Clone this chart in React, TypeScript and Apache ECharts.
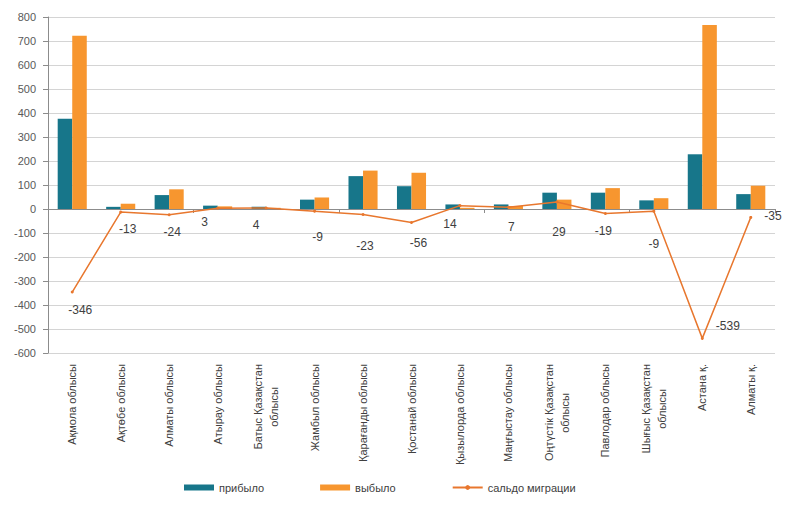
import React, { useEffect, useRef } from "react";
import * as echarts from "echarts";

const categories = [
  "Ақмола облысы",
  "Ақтөбе облысы",
  "Алматы облысы",
  "Атырау облысы",
  "Батыс Қазақстан\nоблысы",
  "Жамбыл облысы",
  "Қарағанды облысы",
  "Қостанай облысы",
  "Қызылорда облысы",
  "Маңғыстау облысы",
  "Оңтүстік Қазақстан\nоблысы",
  "Павлодар облысы",
  "Шығыс Қазақстан\nоблысы",
  "Астана қ.",
  "Алматы қ.",
];

const arrived = [376, 9, 58, 14, 9, 39, 137, 95, 19, 19, 68, 68, 36, 228, 62];
const departed = [722, 22, 82, 11, 5, 48, 160, 151, 5, 12, 39, 87, 45, 767, 97];
const balance = [-346, -13, -24, 3, 4, -9, -23, -56, 14, 7, 29, -19, -9, -539, -35];

const yTicks = { min: -600, max: 800, interval: 100 };

// label nudges (px) for the balance labels, relative to a "below" placement
const labelNudge: [number, number][] = [
  [8, 17], [7, 16], [3, 17], [-13, 13], [-10, 16], [3, 25], [2, 31],
  [7, 20], [-10, 18], [3, 19], [2, 29], [-2, 17], [0, 32], [0, 0], [0, 0],
];

const FONT = "Liberation Sans, Arial, sans-serif";
const TEAL = "#17768A";
const ORANGE = "#F7962F";
const LINE = "#E8772E";
const LABEL_SIZE = 11;

function measure(text: string): number {
  const c = document.createElement("canvas").getContext("2d");
  if (!c) return text.length * 6;
  c.font = `${LABEL_SIZE}px ${FONT}`;
  return c.measureText(text).width;
}

export default function App() {
  const ref = useRef<HTMLDivElement>(null);
  useEffect(() => {
    if (!ref.current) return;
    const chart = echarts.init(ref.current, undefined, { renderer: "svg" });
    const rich: Record<string, any> = {
      a: { fontFamily: FONT, fontSize: LABEL_SIZE, color: "#404040", lineHeight: 16 },
    };
    categories.forEach((c, i) => {
      const parts = c.split("\n");
      if (parts.length > 1) {
        const w = Math.ceil(measure(parts[0]));
        rich["b" + i] = {
          fontFamily: FONT,
          fontSize: LABEL_SIZE,
          color: "#404040",
          lineHeight: 16,
          width: w,
          align: "center",
        };
      }
    });
    const labelFormatter = (v: string, idx: number) => {
      const parts = v.split("\n");
      if (parts.length === 1) return "{a|" + v + "}";
      return "{a|" + parts[0] + "}\n{b" + idx + "|" + parts[1] + "}";
    };
    const n = categories.length;
    chart.setOption({
      animation: false,
      textStyle: { fontFamily: FONT },
      grid: { left: 40, right: 17, top: 9, bottom: 148, containLabel: false },
      legend: {
        left: 171,
        top: 469,
        itemWidth: 30,
        itemHeight: 6,
        itemGap: 56,
        textStyle: { fontFamily: FONT, fontSize: 11, color: "#404040" },
        data: [
          { name: "прибыло", icon: "rect" },
          { name: "выбыло", icon: "rect" },
          { name: "сальдо миграции" },
        ],
      },
      xAxis: [
        {
          type: "category",
          data: categories,
          position: "bottom",
          axisLine: { onZero: true, lineStyle: { color: "#8C8C8C", width: 1 } },
          axisTick: { show: true, length: 4, inside: false, lineStyle: { color: "#8C8C8C" } },
          axisLabel: { show: false },
          splitLine: { show: false },
        },
        {
          type: "category",
          data: categories,
          position: "bottom",
          axisLine: { show: false, onZero: false },
          axisTick: { show: false },
          splitLine: { show: false },
          axisLabel: {
            show: true,
            rotate: 90,
            interval: 0,
            margin: 11,
            formatter: labelFormatter,
            rich,
          },
        },
      ],
      yAxis: {
        type: "value",
        min: yTicks.min,
        max: yTicks.max,
        interval: yTicks.interval,
        axisLine: { show: true, lineStyle: { color: "#8C8C8C" } },
        axisTick: { show: true, length: 5, lineStyle: { color: "#8C8C8C" } },
        axisLabel: { fontFamily: FONT, fontSize: 11, color: "#595959", margin: 12 },
        splitLine: { show: true, lineStyle: { color: "#D4D4D4", width: 1.2 } },
      },
      series: [
        {
          name: "прибыло",
          type: "bar",
          xAxisIndex: 0,
          data: arrived,
          barGap: "0%",
          barCategoryGap: "40%",
          itemStyle: { color: TEAL },
        },
        {
          name: "выбыло",
          type: "bar",
          xAxisIndex: 0,
          data: departed,
          barGap: "0%",
          barCategoryGap: "40%",
          itemStyle: { color: ORANGE },
        },
        {
          name: "сальдо миграции",
          type: "line",
          xAxisIndex: 0,
          data: balance.map((v, i) => ({
            value: v,
            label:
              i >= n - 2
                ? { position: "right", distance: 12, offset: i === n - 1 ? [0, -1] : [0, -12] }
                : { position: "bottom", distance: 0, offset: [labelNudge[i][0], labelNudge[i][1] - 7] },
          })),
          symbol: "circle",
          symbolSize: 3,
          lineStyle: { color: LINE, width: 1.5 },
          itemStyle: { color: LINE },
          label: {
            show: true,
            fontFamily: FONT,
            fontSize: 12,
            color: "#404040",
          },
          z: 5,
        },
      ],
    });
    return () => chart.dispose();
  }, []);
  return <div ref={ref} style={{ width: 784, height: 493 }} />;
}
